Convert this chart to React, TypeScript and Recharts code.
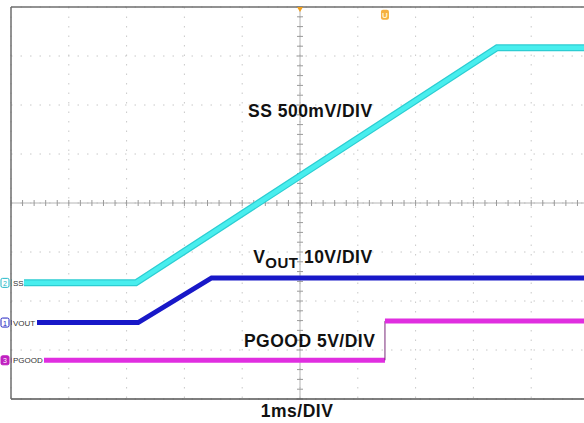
import { LineChart, Line, XAxis, YAxis, CartesianGrid, ReferenceLine, ReferenceDot } from 'recharts';

// horizontal: 1 ms/div, 10 divisions; vertical: 8 divisions
const timeTicks = [0, 1, 2, 3, 4, 5, 6, 7, 8, 9, 10];
const divTicks = [-4, -3, -2, -1, 0, 1, 2, 3, 4];
const timeMinorTicks = Array.from({ length: 51 }, (_, i) => i * 0.2);
const divMinorTicks = Array.from({ length: 41 }, (_, i) => -4 + i * 0.2);

// SS, 500 mV/div
const ssTime = [0, 2.16, 8.41, 10];
const ssVolts = [0, 0, 2.4, 2.4];

// VOUT, 10 V/div
const voutTime = [0, 2.2, 3.47, 10];
const voutVolts = [0, 0, 9.1, 9.1];

// PGOOD, 5 V/div
const pgoodLowTime = [0, 6.47];
const pgoodLowVolts = [0, 0];
const pgoodHighTime = [6.47, 10];
const pgoodHighVolts = [4.0, 4.0];

// scope channel settings: volts per division and ground marker position (divisions)
const ssScale = 0.5;
const ssOffset = -1.63;
const voutScale = 10;
const voutOffset = -2.44;
const pgoodScale = 5;
const pgoodOffset = -3.21;

const toPoints = (t: number[], v: number[]) => t.map((x, i) => ({ t: x, v: v[i] }));
const channelDomain = (scale: number, offset: number) => [(-4 - offset) * scale, (4 - offset) * scale];

const ssData = toPoints(ssTime, ssVolts);
const voutData = toPoints(voutTime, voutVolts);
const pgoodLowData = toPoints(pgoodLowTime, pgoodLowVolts);
const pgoodHighData = toPoints(pgoodHighTime, pgoodHighVolts);
const pgoodEdgeData = toPoints([pgoodLowTime[1], pgoodHighTime[0]], [pgoodLowVolts[1], pgoodHighVolts[0]]);

const FONT = '"Liberation Sans", Arial, sans-serif';
const GRID = '#c8c8c8';
const BORDER = '#6e6e6e';

// center crosshair with small tick marks every 1/5 division
const CenterH = (props: any) => {
  const { x1, x2, y1 } = props;
  const step = (x2 - x1) / 50;
  return (
    <g>
      <line x1={x1} x2={x2} y1={y1} y2={y1} stroke="#b4b4b4" strokeWidth={1} />
      {Array.from({ length: 51 }, (_, i) => (
        <line key={i} x1={x1 + i * step} x2={x1 + i * step} y1={y1 - 3} y2={y1 + 3} stroke="#9a9a9a" strokeWidth={1} />
      ))}
    </g>
  );
};

const CenterV = (props: any) => {
  const { x1, y1, y2 } = props;
  const top = Math.min(y1, y2);
  const step = Math.abs(y2 - y1) / 40;
  return (
    <g>
      <line x1={x1} x2={x1} y1={y1} y2={y2} stroke="#b4b4b4" strokeWidth={1} />
      {Array.from({ length: 41 }, (_, i) => (
        <line key={i} x1={x1 - 3} x2={x1 + 3} y1={top + i * step} y2={top + i * step} stroke="#9a9a9a" strokeWidth={1} />
      ))}
    </g>
  );
};

// channel ground marker at the left edge, name drawn over the trace
const channelMarker = (num: string, name: string, color: string, filled: boolean, nameWidth: number) => (props: any) => {
  const { cx, cy } = props;
  return (
    <g>
      <rect x={cx + 1} y={cy - 5} width={nameWidth} height={10} fill="#fff" />
      <rect x={cx - 10} y={cy - 4.5} width={8} height={9} rx={1.5} fill={filled ? color : '#fff'} stroke={color} strokeWidth={1} />
      <text x={cx - 6} y={cy + 3} fontSize={7} textAnchor="middle" fontFamily={FONT} fill={filled ? '#fff' : color}>{num}</text>
      <text x={cx + 2} y={cy + 3} fontSize={8} fontFamily={FONT} fill="#333">{name}</text>
    </g>
  );
};

const textLabel = (content: React.ReactNode, anchor: 'start' | 'middle' = 'start') => (props: any) => {
  const { cx, cy } = props;
  return (
    <text x={cx} y={cy} fontSize={17.5} letterSpacing={0.5} fontWeight="bold" fontFamily={FONT} fill="#111" textAnchor={anchor}>
      {content}
    </text>
  );
};

const TriggerMark = (props: any) => {
  const { cx, cy } = props;
  return <path d={`M${cx - 3},${cy} L${cx + 3},${cy} L${cx},${cy + 5} Z`} fill="#f0a020" />;
};

const CursorMark = (props: any) => {
  const { cx, cy } = props;
  return (
    <g>
      <rect x={cx - 4} y={cy - 5} width={8} height={10} rx={2} fill="#f5b040" />
      <text x={cx} y={cy + 3} fontSize={8} fontWeight="bold" textAnchor="middle" fontFamily={FONT} fill="#fff3d0">U</text>
    </g>
  );
};

export default function App() {
  return (
    <div style={{ position: 'fixed', left: 0, top: 0, width: 584, height: 423, overflow: 'hidden', background: '#fff' }}>
      <LineChart width={600} height={423} margin={{ top: 7, right: 11, bottom: 24, left: 11 }}>
        <XAxis xAxisId="grid" type="number" dataKey="t" domain={[0, 10]} ticks={timeTicks} hide height={0} allowDataOverflow />
        <XAxis xAxisId="time" type="number" dataKey="t" domain={[0, 10]} ticks={timeMinorTicks} tick={false} allowDataOverflow
          tickSize={3} mirror height={1} axisLine={{ stroke: '#555', strokeWidth: 1.5 }} tickLine={{ stroke: '#888' }} />
        <XAxis xAxisId="top" orientation="top" type="number" dataKey="t" domain={[0, 10]} ticks={timeMinorTicks} tick={false} allowDataOverflow
          tickSize={3} mirror height={1} axisLine={{ stroke: BORDER, strokeWidth: 1.5 }} tickLine={{ stroke: '#999' }} />
        <YAxis yAxisId="divGrid" type="number" domain={[-4, 4]} ticks={divTicks} hide width={0} allowDataOverflow />
        <YAxis yAxisId="div" type="number" domain={[-4, 4]} ticks={divMinorTicks} tick={false} allowDataOverflow
          tickSize={3} mirror width={1} axisLine={{ stroke: BORDER, strokeWidth: 1.5 }} tickLine={{ stroke: '#999' }} />
        <YAxis yAxisId="ss" type="number" domain={channelDomain(ssScale, ssOffset)} hide width={0} allowDataOverflow />
        <YAxis yAxisId="vout" type="number" domain={channelDomain(voutScale, voutOffset)} hide width={0} allowDataOverflow />
        <YAxis yAxisId="pgood" type="number" domain={channelDomain(pgoodScale, pgoodOffset)} hide width={0} allowDataOverflow />

        <CartesianGrid xAxisId="grid" yAxisId="divGrid" stroke={GRID} strokeDasharray="1.5 8" />
        <ReferenceLine xAxisId="grid" yAxisId="divGrid" y={0} shape={CenterH} />
        <ReferenceLine xAxisId="grid" yAxisId="divGrid" x={5} shape={CenterV} />

        <Line data={ssData} dataKey="v" xAxisId="time" yAxisId="ss" type="linear" dot={false} isAnimationActive={false}
          stroke="#2ccdd2" strokeWidth={7} />
        <Line data={ssData} dataKey="v" xAxisId="time" yAxisId="ss" type="linear" dot={false} isAnimationActive={false}
          stroke="#48eeee" strokeWidth={4.5} />
        <Line data={voutData} dataKey="v" xAxisId="time" yAxisId="vout" type="linear" dot={false} isAnimationActive={false}
          stroke="#1818c8" strokeWidth={5} />
        <Line data={pgoodLowData} dataKey="v" xAxisId="time" yAxisId="pgood" type="linear" dot={false} isAnimationActive={false}
          stroke="#e02ee0" strokeWidth={5} />
        <Line data={pgoodEdgeData} dataKey="v" xAxisId="time" yAxisId="pgood" type="linear" dot={false} isAnimationActive={false}
          stroke="#7a2a7a" strokeWidth={1} />
        <Line data={pgoodHighData} dataKey="v" xAxisId="time" yAxisId="pgood" type="linear" dot={false} isAnimationActive={false}
          stroke="#e02ee0" strokeWidth={5} />

        <ReferenceDot xAxisId="time" yAxisId="ss" x={0} y={0} ifOverflow="visible" shape={channelMarker('2', 'SS', '#22b8c8', false, 12)} />
        <ReferenceDot xAxisId="time" yAxisId="vout" x={0} y={0} ifOverflow="visible" shape={channelMarker('1', 'VOUT', '#2020c0', false, 25)} />
        <ReferenceDot xAxisId="time" yAxisId="pgood" x={0} y={0} ifOverflow="visible" shape={channelMarker('3', 'PGOOD', '#c020c0', true, 32)} />

        <ReferenceDot xAxisId="time" yAxisId="div" x={5} y={4} ifOverflow="visible" shape={TriggerMark} />
        <ReferenceDot xAxisId="time" yAxisId="div" x={pgoodHighTime[0]} y={3.84} ifOverflow="visible" shape={CursorMark} />

        <ReferenceDot xAxisId="time" yAxisId="div" x={4.1} y={1.76} ifOverflow="visible" shape={textLabel('SS 500mV/DIV')} />
        <ReferenceDot xAxisId="time" yAxisId="div" x={4.19} y={-1.22} ifOverflow="visible"
          shape={textLabel(<>V<tspan fontSize={15} dy={5}>OUT</tspan><tspan dy={-5}> 10V/DIV</tspan></>)} />
        <ReferenceDot xAxisId="time" yAxisId="div" x={4.03} y={-2.94} ifOverflow="visible" shape={textLabel('PGOOD 5V/DIV')} />
        <ReferenceDot xAxisId="time" yAxisId="div" x={4.95} y={-4.37} ifOverflow="visible" shape={textLabel('1ms/DIV', 'middle')} />
      </LineChart>
    </div>
  );
}
